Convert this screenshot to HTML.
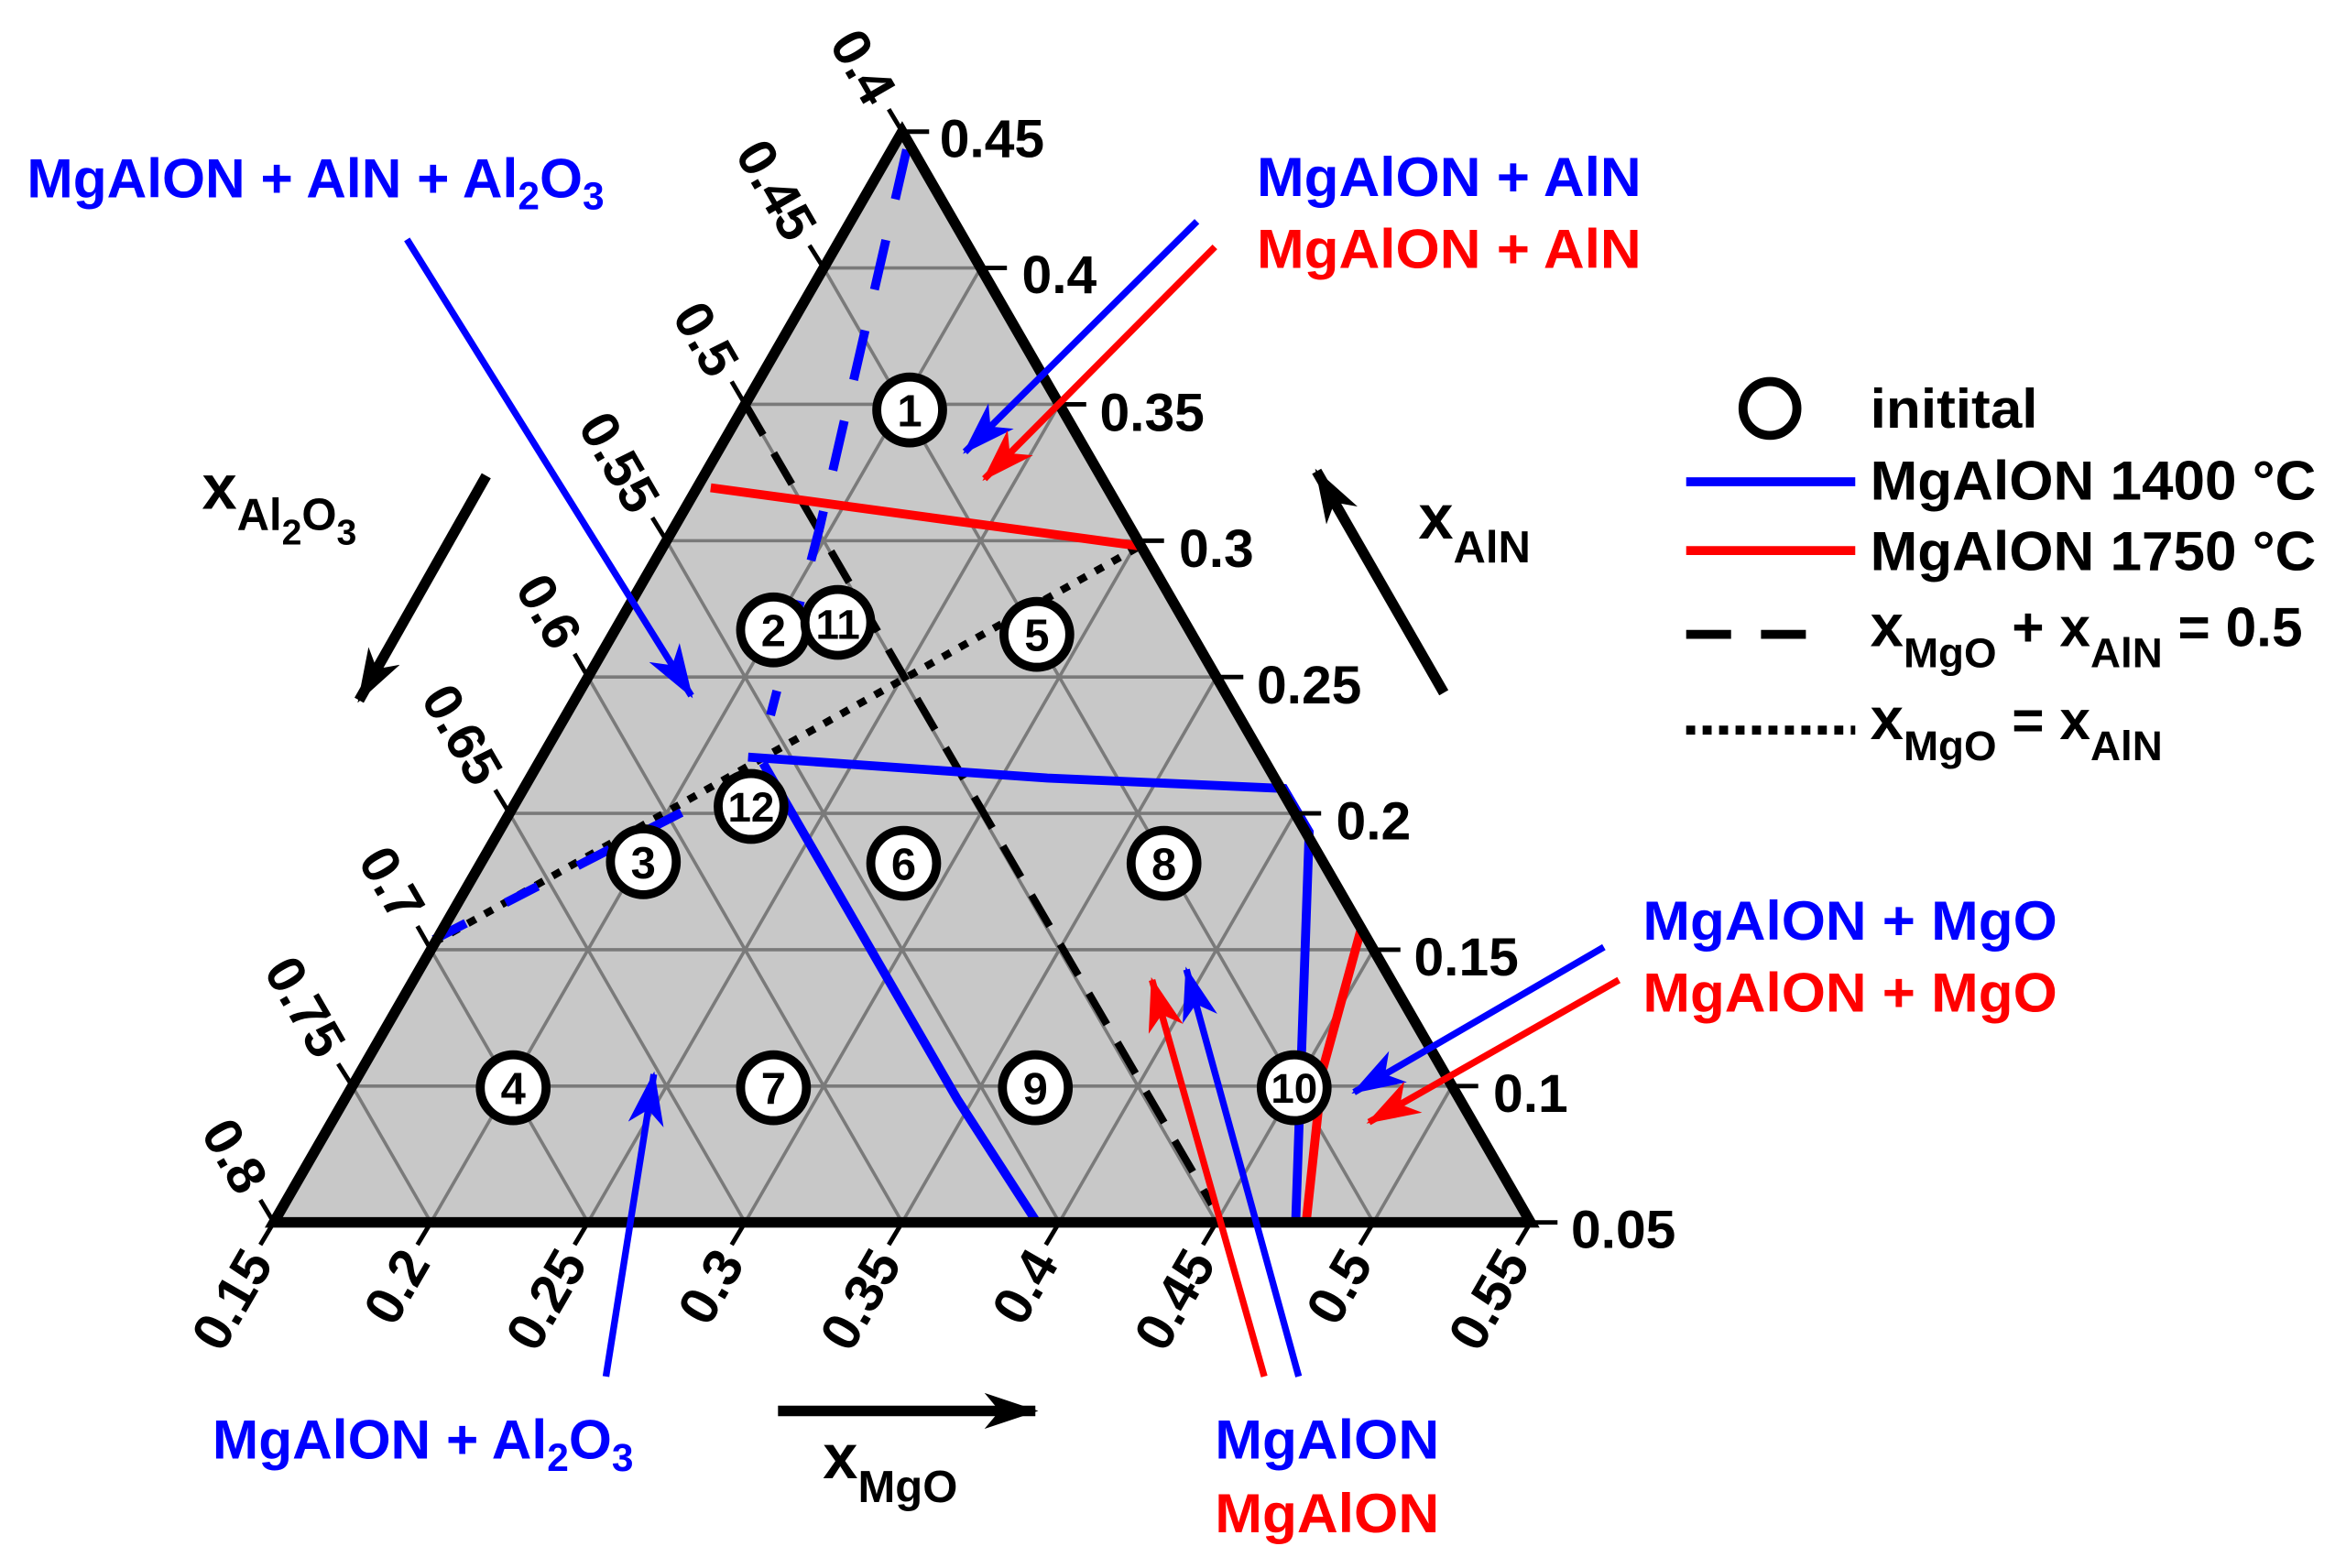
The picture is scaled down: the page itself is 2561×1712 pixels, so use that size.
<!DOCTYPE html>
<html><head><meta charset="utf-8"><style>html,body{margin:0;padding:0;background:#fff}svg{display:block}</style></head>
<body>
<svg width="2561" height="1712" viewBox="0 0 1568 1048" preserveAspectRatio="none" xmlns="http://www.w3.org/2000/svg" font-family="Liberation Sans, Arial, sans-serif" font-weight="bold">
<defs>
<marker id="ab" viewBox="0 0 36 24" refX="34" refY="12" markerWidth="36" markerHeight="24" markerUnits="userSpaceOnUse" orient="auto"><path d="M0,0 L36,12 L0,24 L10,12 Z" fill="#0000ff"/></marker>
<marker id="ar" viewBox="0 0 36 24" refX="34" refY="12" markerWidth="36" markerHeight="24" markerUnits="userSpaceOnUse" orient="auto"><path d="M0,0 L36,12 L0,24 L10,12 Z" fill="#ff0000"/></marker>
<marker id="ak" viewBox="0 0 36 24" refX="34" refY="12" markerWidth="36" markerHeight="24" markerUnits="userSpaceOnUse" orient="auto"><path d="M0,0 L36,12 L0,24 L10,12 Z" fill="#000"/></marker>
</defs>
<polygon points="603,88 183,817 1023,817" fill="#c8c8c8"/>
<g stroke="#7a7a7a" stroke-width="2.2">
<line x1="235.5" y1="725.9" x2="970.5" y2="725.9"/>
<line x1="288" y1="634.75" x2="918" y2="634.75"/>
<line x1="340.5" y1="543.6" x2="865.5" y2="543.6"/>
<line x1="393" y1="452.5" x2="813" y2="452.5"/>
<line x1="445.5" y1="361.4" x2="760.5" y2="361.4"/>
<line x1="498" y1="270.25" x2="708" y2="270.25"/>
<line x1="550.5" y1="179.1" x2="655.5" y2="179.1"/>
<line x1="288" y1="817" x2="655.5" y2="179.1"/>
<line x1="393" y1="817" x2="708" y2="270.25"/>
<line x1="498" y1="817" x2="760.5" y2="361.4"/>
<line x1="603" y1="817" x2="813" y2="452.5"/>
<line x1="708" y1="817" x2="865.5" y2="543.6"/>
<line x1="813" y1="817" x2="918" y2="634.75"/>
<line x1="918" y1="817" x2="970.5" y2="725.9"/>
<line x1="288" y1="817" x2="235.5" y2="725.9"/>
<line x1="393" y1="817" x2="288" y2="634.75"/>
<line x1="498" y1="817" x2="340.5" y2="543.6"/>
<line x1="603" y1="817" x2="393" y2="452.5"/>
<line x1="708" y1="817" x2="445.5" y2="361.4"/>
<line x1="813" y1="817" x2="498" y2="270.25"/>
<line x1="918" y1="817" x2="550.5" y2="179.1"/>
</g>
<line x1="498" y1="270" x2="810" y2="805" stroke="#000" stroke-width="5" stroke-dasharray="24,14"/>
<line x1="290" y1="630" x2="762" y2="365" stroke="#000" stroke-width="5" stroke-dasharray="6,7"/>
<polyline points="606,100 548,352 515,478" fill="none" stroke="#0000ff" stroke-width="6" stroke-dasharray="34,28"/>
<line x1="290" y1="628" x2="475" y2="533" stroke="#0000ff" stroke-width="6" stroke-dasharray="24,30"/>
<line x1="475" y1="326" x2="762" y2="365" stroke="#ff0000" stroke-width="6"/>
<path d="M500,506 L700,520 L858,527 L875,556 L866,817" fill="none" stroke="#0000ff" stroke-width="6"/>
<path d="M510,510 L640,735 L693,817" fill="none" stroke="#0000ff" stroke-width="6"/>
<path d="M910,620 L884,715 L873,817" fill="none" stroke="#ff0000" stroke-width="6"/>
<polygon points="603,88 183,817 1023,817" fill="none" stroke="#000" stroke-width="7" stroke-linejoin="miter"/>
<g stroke="#000" stroke-width="3">
<line x1="603" y1="88" x2="621" y2="88"/><line x1="655.5" y1="179.1" x2="673" y2="179.1"/><line x1="708" y1="270.25" x2="726" y2="270.25"/><line x1="760.5" y1="361.4" x2="778" y2="361.4"/><line x1="813" y1="452.5" x2="831" y2="452.5"/><line x1="865.5" y1="543.6" x2="883" y2="543.6"/><line x1="918" y1="634.75" x2="936" y2="634.75"/><line x1="970.5" y1="725.9" x2="988" y2="725.9"/><line x1="1023" y1="817" x2="1041" y2="817"/>
<line x1="603" y1="88" x2="594" y2="73"/><line x1="550.5" y1="179.1" x2="541" y2="164"/><line x1="498" y1="270.25" x2="489" y2="255"/><line x1="445.5" y1="361.4" x2="436" y2="346"/><line x1="393" y1="452.5" x2="384" y2="437"/><line x1="340.5" y1="543.6" x2="331" y2="528"/><line x1="288" y1="634.75" x2="279" y2="619"/><line x1="235.5" y1="725.9" x2="226" y2="711"/><line x1="183" y1="817" x2="174" y2="802"/>
<line x1="183" y1="817" x2="174" y2="832"/><line x1="288" y1="817" x2="279" y2="832"/><line x1="393" y1="817" x2="384" y2="832"/><line x1="498" y1="817" x2="489" y2="832"/><line x1="603" y1="817" x2="594" y2="832"/><line x1="708" y1="817" x2="699" y2="832"/><line x1="813" y1="817" x2="804" y2="832"/><line x1="918" y1="817" x2="909" y2="832"/><line x1="1023" y1="817" x2="1014" y2="832"/>
</g>
<g font-size="36" fill="#000">
<text x="628" y="105">0.45</text><text x="683" y="196">0.4</text><text x="735" y="288">0.35</text><text x="788" y="379">0.3</text><text x="840" y="470">0.25</text><text x="893" y="561">0.2</text><text x="945" y="652">0.15</text><text x="998" y="743">0.1</text><text x="1050" y="834">0.05</text>
</g>
<g font-size="36" fill="#000" text-anchor="end">
<text transform="translate(590,66) rotate(60)" x="0" y="13">0.4</text>
<text transform="translate(537,157) rotate(60)" x="0" y="13">0.45</text>
<text transform="translate(485,248) rotate(60)" x="0" y="13">0.5</text>
<text transform="translate(432,339) rotate(60)" x="0" y="13">0.55</text>
<text transform="translate(380,430) rotate(60)" x="0" y="13">0.6</text>
<text transform="translate(327,521) rotate(60)" x="0" y="13">0.65</text>
<text transform="translate(275,612) rotate(60)" x="0" y="13">0.7</text>
<text transform="translate(222,703) rotate(60)" x="0" y="13">0.75</text>
<text transform="translate(170,794) rotate(60)" x="0" y="13">0.8</text>
<text transform="translate(172,838) rotate(-60)" x="0" y="13">0.15</text>
<text transform="translate(277,838) rotate(-60)" x="0" y="13">0.2</text>
<text transform="translate(382,838) rotate(-60)" x="0" y="13">0.25</text>
<text transform="translate(487,838) rotate(-60)" x="0" y="13">0.3</text>
<text transform="translate(592,838) rotate(-60)" x="0" y="13">0.35</text>
<text transform="translate(697,838) rotate(-60)" x="0" y="13">0.4</text>
<text transform="translate(802,838) rotate(-60)" x="0" y="13">0.45</text>
<text transform="translate(907,838) rotate(-60)" x="0" y="13">0.5</text>
<text transform="translate(1012,838) rotate(-60)" x="0" y="13">0.55</text>
</g>
<g fill="#fff" stroke="#000" stroke-width="6">
<circle cx="608" cy="274" r="22"/><circle cx="517" cy="421" r="22"/><circle cx="560" cy="416" r="22"/><circle cx="693" cy="424" r="22"/><circle cx="502" cy="539" r="22"/><circle cx="430" cy="576" r="22"/><circle cx="604" cy="577" r="22"/><circle cx="778" cy="577" r="22"/><circle cx="343" cy="727" r="22"/><circle cx="517" cy="727" r="22"/><circle cx="692" cy="727" r="22"/><circle cx="865" cy="727" r="22"/>
</g>
<g font-size="30" text-anchor="middle" fill="#000">
<text x="608" y="285">1</text><text x="517" y="432">2</text><text x="560" y="427" font-size="28">11</text><text x="693" y="435">5</text><text x="502" y="549" font-size="28">12</text><text x="430" y="587">3</text><text x="604" y="588">6</text><text x="778" y="588">8</text><text x="343" y="738">4</text><text x="517" y="738">7</text><text x="692" y="738">9</text><text x="865" y="737" font-size="28">10</text>
</g>
<g stroke-width="4.5">
<line x1="272" y1="160" x2="462" y2="465" stroke="#0000ff" marker-end="url(#ab)"/>
<line x1="800" y1="148" x2="645" y2="302" stroke="#0000ff" marker-end="url(#ab)"/>
<line x1="812" y1="165" x2="658" y2="320" stroke="#ff0000" marker-end="url(#ar)"/>
<line x1="1072" y1="633" x2="905" y2="730" stroke="#0000ff" marker-end="url(#ab)"/>
<line x1="1082" y1="655" x2="915" y2="750" stroke="#ff0000" marker-end="url(#ar)"/>
<line x1="405" y1="920" x2="437" y2="718" stroke="#0000ff" marker-end="url(#ab)"/>
<line x1="845" y1="920" x2="770" y2="655" stroke="#ff0000" marker-end="url(#ar)"/>
<line x1="868" y1="920" x2="793" y2="648" stroke="#0000ff" marker-end="url(#ab)"/>
<line x1="520" y1="943" x2="692" y2="943" stroke="#000" stroke-width="7" marker-end="url(#ak)"/>
<line x1="325" y1="318" x2="240" y2="468" stroke="#000" stroke-width="7" marker-end="url(#ak)"/>
<line x1="965" y1="463" x2="880" y2="315" stroke="#000" stroke-width="7" marker-end="url(#ak)"/>
</g>
<g font-size="37">
<text x="18" y="132" fill="#0000ff">MgAlON + AlN + Al<tspan font-size="26" dy="8">2</tspan><tspan dy="-8">O</tspan><tspan font-size="26" dy="8">3</tspan></text>
<text x="840" y="131" fill="#0000ff" textLength="257" lengthAdjust="spacingAndGlyphs">MgAlON + AlN</text>
<text x="840" y="179" fill="#ff0000" textLength="257" lengthAdjust="spacingAndGlyphs">MgAlON + AlN</text>
<text x="1098" y="628" fill="#0000ff" textLength="277" lengthAdjust="spacingAndGlyphs">MgAlON + MgO</text>
<text x="1098" y="676" fill="#ff0000" textLength="277" lengthAdjust="spacingAndGlyphs">MgAlON + MgO</text>
<text x="142" y="975" fill="#0000ff">MgAlON + Al<tspan font-size="26" dy="8">2</tspan><tspan dy="-8">O</tspan><tspan font-size="26" dy="8">3</tspan></text>
<text x="812" y="975" fill="#0000ff" textLength="150" lengthAdjust="spacingAndGlyphs">MgAlON</text>
<text x="812" y="1024" fill="#ff0000" textLength="150" lengthAdjust="spacingAndGlyphs">MgAlON</text>
</g>
<g fill="#000">
<text x="135" y="340" font-size="42">x<tspan font-size="30" dy="14">Al</tspan><tspan font-size="24" dy="10">2</tspan><tspan font-size="30" dy="-10">O</tspan><tspan font-size="24" dy="10">3</tspan></text>
<text x="550" y="988" font-size="42">x<tspan font-size="30" dy="16">MgO</tspan></text>
<text x="948" y="360" font-size="42">x<tspan font-size="30" dy="16">AlN</tspan></text>
</g>
<circle cx="1183" cy="273" r="18" fill="none" stroke="#000" stroke-width="6"/>
<line x1="1127" y1="322" x2="1240" y2="322" stroke="#0000ff" stroke-width="6"/>
<line x1="1127" y1="368" x2="1240" y2="368" stroke="#ff0000" stroke-width="6"/>
<line x1="1127" y1="424" x2="1220" y2="424" stroke="#000" stroke-width="6" stroke-dasharray="30,20"/>
<line x1="1127" y1="488" x2="1240" y2="488" stroke="#000" stroke-width="6" stroke-dasharray="6,5"/>
<g fill="#000" font-size="37">
<text x="1250" y="286" textLength="112" lengthAdjust="spacingAndGlyphs">initital</text>
<text x="1250" y="334" textLength="298" lengthAdjust="spacingAndGlyphs">MgAlON 1400 °C</text>
<text x="1250" y="381" textLength="298" lengthAdjust="spacingAndGlyphs">MgAlON 1750 °C</text>
<text x="1250" y="432" font-size="40">x<tspan font-size="28" dy="14">MgO</tspan><tspan dy="-14" font-size="37"> + x</tspan><tspan font-size="28" dy="14">AlN</tspan><tspan dy="-14" font-size="37"> = 0.5</tspan></text>
<text x="1250" y="494" font-size="40">x<tspan font-size="28" dy="14">MgO</tspan><tspan dy="-14" font-size="37"> = x</tspan><tspan font-size="28" dy="14">AlN</tspan></text>
</g>
</svg>
</body></html>
